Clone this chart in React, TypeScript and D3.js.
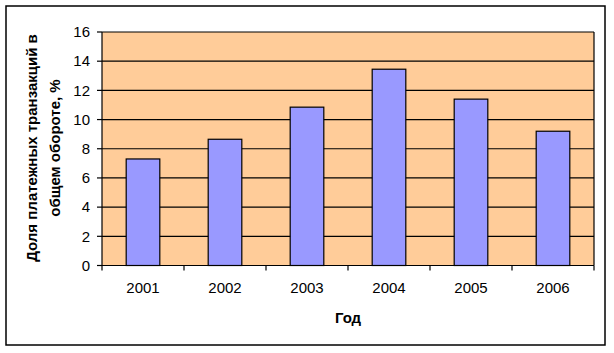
import React from "react";
import * as d3 from "d3";

const years = ["2001", "2002", "2003", "2004", "2005", "2006"];
const shares = [7.3, 8.65, 10.85, 13.45, 11.4, 9.2];
const yTicks = [0, 2, 4, 6, 8, 10, 12, 14, 16];
const yTitleLines = ["Доля платежных транзакций в", "общем обороте, %"];
const xTitle = "Год";

export default function App() {
  const W = 614, H = 353;
  const left = 102, right = 594, top = 32, bottom = 265.5;
  const x = d3.scaleBand<string>().domain(years).range([left, right]).paddingInner(0.59).paddingOuter(0.295);
  const y = d3.scaleLinear().domain([0, 16]).range([bottom, top]);
  const step = x.step();
  const font = "Arial, 'Liberation Sans', sans-serif";
  return (
    <svg width={W} height={H} style={{ position: "absolute", left: 0, top: 0, background: "#fff" }} fontFamily={font}>
      <rect x={6} y={6} width={599} height={339} fill="#fff" stroke="#000" strokeWidth={1.5} />
      <rect x={left} y={top} width={right - left} height={bottom - top} fill="#FFCC99" />
      {yTicks.map((t) => (
        <line key={"g" + t} x1={left} x2={right} y1={y(t)} y2={y(t)} stroke="#000" strokeWidth={1.2} />
      ))}
      {years.map((yr, i) => (
        <rect key={yr} x={x(yr)} y={y(shares[i])} width={x.bandwidth()} height={y(0) - y(shares[i])} fill="#9999FF" stroke="#000" strokeWidth={1.2} />
      ))}
      <line x1={right} x2={right} y1={top} y2={bottom} stroke="#000" strokeWidth={1.2} />
      <line x1={left} x2={left} y1={top} y2={bottom} stroke="#000" strokeWidth={1.2} />
      <line x1={left} x2={right} y1={bottom} y2={bottom} stroke="#000" strokeWidth={1.2} />
      {yTicks.map((t) => (
        <g key={"t" + t}>
          <line x1={left - 5} x2={left} y1={y(t)} y2={y(t)} stroke="#000" strokeWidth={1.2} />
          <text x={90} y={y(t) + 5.3} textAnchor="end" fontSize={15} fill="#000">{t}</text>
        </g>
      ))}
      {d3.range(years.length + 1).map((k) => (
        <line key={"xt" + k} x1={left + k * step} x2={left + k * step} y1={bottom} y2={bottom + 5} stroke="#000" strokeWidth={1.2} />
      ))}
      {years.map((yr) => (
        <text key={"xl" + yr} x={(x(yr) as number) + x.bandwidth() / 2} y={293} textAnchor="middle" fontSize={15} fill="#000">{yr}</text>
      ))}
      <text x={(left + right) / 2} y={323} textAnchor="middle" fontSize={15} fontWeight="bold" fill="#000">{xTitle}</text>
      {yTitleLines.map((ln, i) => (
        <text key={"yt" + i} transform={`translate(${37 + i * 23},148) rotate(-90)`} textAnchor="middle" fontSize={15} fontWeight="bold" fill="#000">{ln}</text>
      ))}
    </svg>
  );
}
